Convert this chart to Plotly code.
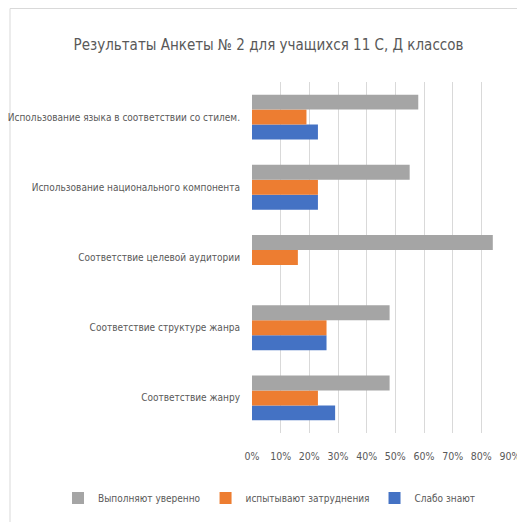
import plotly.graph_objects as go

categories = [
    "Соответствие жанру",
    "Соответствие структуре жанра",
    "Соответствие целевой аудитории",
    "Использование национального компонента",
    "Использование языка в соответствии со стилем.",
]
weak = [0.29, 0.26, 0.0, 0.23, 0.23]          # Слабо знают
difficulty = [0.23, 0.26, 0.16, 0.23, 0.19]   # испытывают затруднения
confident = [0.48, 0.48, 0.84, 0.55, 0.58]    # Выполняют уверенно
series_names = ["Слабо знают", "испытывают затруднения", "Выполняют уверенно"]
tick_vals = [0, 0.1, 0.2, 0.3, 0.4, 0.5, 0.6, 0.7, 0.8, 0.9]
tick_text = ["0%", "10%", "20%", "30%", "40%", "50%", "60%", "70%", "80%", "90%"]

colors = ["#4472C4", "#ED7D31", "#A5A5A5"]
FONT = "DejaVu Sans Condensed, Open Sans, sans-serif"

fig = go.Figure()
for name, vals, c in zip(series_names, [weak, difficulty, confident], colors):
    fig.add_trace(go.Bar(y=categories, x=vals, name=name, orientation="h",
                         marker=dict(color=c, line=dict(width=0))))

# page has an 8px body margin; figure coords = reference coords - 8
W, H = 517, 514
ml, mr, mt, mb = 244, 15, 74, 89
pw, ph = W - ml - mr, H - mt - mb

def px(x):
    return (x - ml) / pw

def py(y):
    return (H - mb - y) / ph

fig.update_layout(
    width=W, height=H,
    margin=dict(l=ml, r=mr, t=mt, b=mb, autoexpand=False),
    paper_bgcolor="white", plot_bgcolor="white",
    font=dict(family=FONT, color="#595959", size=10),
    barmode="group", bargap=0.36, bargroupgap=0,
    title=dict(text="Результаты Анкеты № 2 для учащихся 11 С, Д классов",
               x=260.5 / W, xref="container", xanchor="center",
               y=1 - 37 / H, yref="container", yanchor="middle",
               font=dict(size=15, color="#595959", family=FONT)),
    xaxis=dict(range=[0, 0.9], tickvals=tick_vals, ticktext=tick_text,
               showgrid=True, gridcolor="#D9D9D9", gridwidth=1,
               zeroline=False, showline=False,
               ticks="outside", ticklen=13, tickcolor="rgba(0,0,0,0)",
               tickfont=dict(size=10.5), ticklabeloverflow="allow",
               fixedrange=True),
    yaxis=dict(categoryorder="array", categoryarray=categories,
               showgrid=False, zeroline=False, showline=False,
               ticks="outside", ticklen=9, tickcolor="rgba(0,0,0,0)",
               tickfont=dict(size=10), fixedrange=True),
    legend=dict(orientation="h", traceorder="reversed",
                x=px(50), xanchor="left", y=py(490), yanchor="middle",
                font=dict(size=10), itemwidth=30,
                bgcolor="rgba(0,0,0,0)"),
    shapes=[dict(type="rect", xref="paper", yref="paper",
                 x0=px(2), x1=px(540), y0=py(540), y1=py(0.5),
                 line=dict(color="#D9D9D9", width=1), layer="below")],
    showlegend=True,
)

fig.write_html("out.html")
